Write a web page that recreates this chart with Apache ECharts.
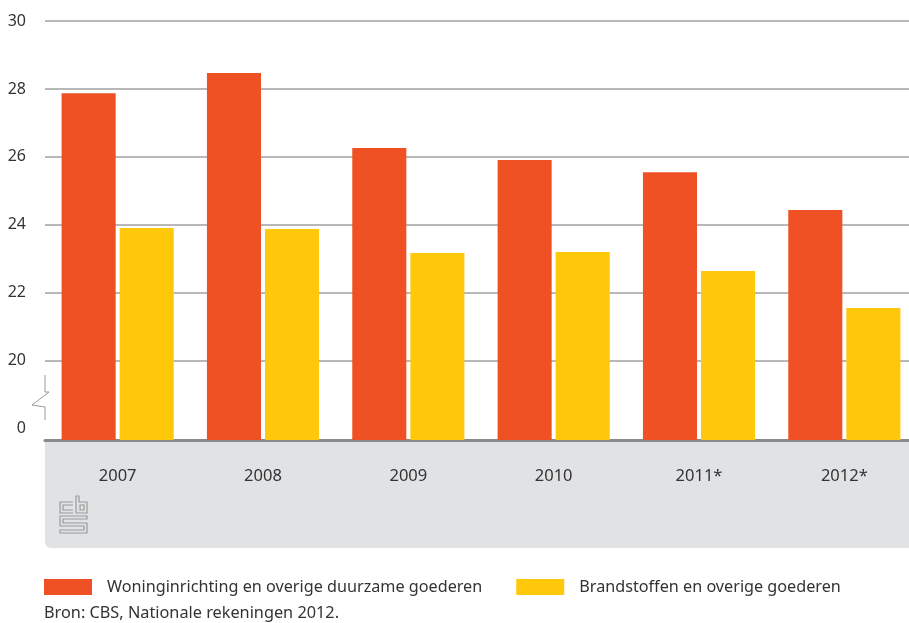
<!DOCTYPE html>
<html>
<head>
<meta charset="utf-8">
<script src="https://cdn.jsdelivr.net/npm/echarts@6/dist/echarts.min.js"></script>
<style>
  html, body { margin: 0; padding: 0; background: #fff; }
  #chart { width: 909px; height: 623px; }
</style>
</head>
<body>
<div id="chart"></div>
<script>
// data
var years = ['2007', '2008', '2009', '2010', '2011*', '2012*'];
var woning = [27.87, 28.47, 26.26, 25.91, 25.55, 24.44];
var brand = [23.91, 23.88, 23.17, 23.20, 22.64, 21.55];
var yLabels = [18, 20, 22, 24, 26, 28, 30];   // 18 is drawn as "0" (broken axis)
var gridValues = [20, 22, 24, 26, 28, 30];
var seriesNames = ['Woninginrichting en overige duurzame goederen', 'Brandstoffen en overige goederen'];

var font = 'Noto Sans';
var logoStyle = { stroke: '#9a9a9a', lineWidth: 1.2, fill: null };
var chart = echarts.init(document.getElementById('chart'));

var option = {
    animation: false,
    color: ['#f05124', '#ffc80b'],
    textStyle: { fontFamily: font },
    // chart runs past the right edge in the original, so no clamping
    grid: { left: 45, top: 21, width: 872, height: 419, outerBoundsMode: 'none' },
    legend: {
        left: 44,
        top: 579,
        padding: 0,
        itemWidth: 48,
        itemHeight: 16,
        itemGap: 34,
        icon: 'rect',
        textStyle: { fontFamily: font, fontSize: 16.2, color: '#333', padding: [0, 0, 0, 10] },
        data: seriesNames
    },
    xAxis: {
        type: 'category',
        data: years,
        axisLine: { lineStyle: { color: '#8a8a8a', width: 3 } },
        axisTick: { length: 13, lineStyle: { color: '#8a8a8a', width: 1 } },
        axisLabel: { margin: 28, fontSize: 16.5, color: '#333', fontFamily: font }
    },
    yAxis: {
        type: 'value',
        min: 17.666,
        max: 30,
        axisLine: { show: false },
        axisTick: { show: false, customValues: gridValues },
        axisLabel: {
            customValues: yLabels,
            margin: 19,
            fontSize: 16,
            color: '#333',
            fontFamily: font,
            formatter: function (v) { return v === 18 ? '0' : String(v); }
        },
        splitLine: { lineStyle: { color: '#b8b8b8', width: 2 } }
    },
    series: [
        { name: seriesNames[0], type: 'bar', data: woning, barWidth: '37.2%', barGap: '7.4%' },
        { name: seriesNames[1], type: 'bar', data: brand, barWidth: '37.2%', barGap: '7.4%' }
    ],
    graphic: [
        {
            type: 'rect', z: -10,
            shape: { x: 45, y: 441, width: 870, height: 107, r: [0, 0, 0, 6] },
            style: { fill: '#e1e2e4' }
        },
        {
            // axis break symbol
            type: 'polyline', z: 10,
            shape: { points: [[45, 375], [45, 392], [49, 392], [32, 405], [45, 407], [45, 420]] },
            style: { stroke: '#999', lineWidth: 1, fill: null }
        },
        // cbs logo (rough outline)
        { type: 'polyline', z: 10, shape: { points: [[73, 502], [60, 502], [60, 513], [73, 513]] }, style: logoStyle },
        { type: 'polyline', z: 10, shape: { points: [[73, 505], [63, 505], [63, 510], [73, 510]] }, style: logoStyle },
        { type: 'polygon', z: 10, shape: { points: [[76, 496], [79, 496], [79, 502], [87, 502], [87, 513], [76, 513]] }, style: logoStyle },
        { type: 'rect', z: 10, shape: { x: 80, y: 505, width: 4, height: 5 }, style: logoStyle },
        {
            type: 'polygon', z: 10,
            shape: { points: [[60, 516], [87, 516], [87, 519], [63, 519], [63, 523], [87, 523], [87, 533], [60, 533], [60, 530], [84, 530], [84, 526], [60, 526]] },
            style: logoStyle
        },
        {
            type: 'text', left: 44, top: 605,
            style: { text: 'Bron: CBS, Nationale rekeningen 2012.', fontFamily: font, fontSize: 16.3, fill: '#333' }
        }
    ]
};

chart.setOption(option);
window.addEventListener('resize', function () { chart.resize(); });
</script>
</body>
</html>
